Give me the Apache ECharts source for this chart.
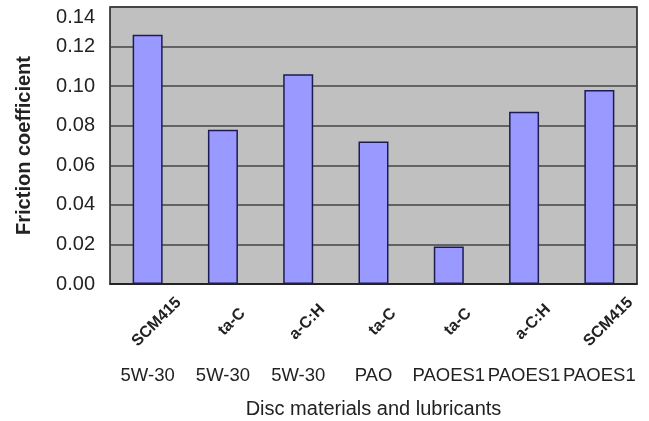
<!DOCTYPE html>
<html>
<head>
<meta charset="utf-8">
<script src="https://cdn.jsdelivr.net/npm/echarts@6/dist/echarts.min.js"></script>
<style>
html,body{margin:0;padding:0;background:#fff;}
#chart{width:649px;height:421px;}
</style>
</head>
<body>
<div id="chart"></div>
<script>
const materials = ['SCM415', 'ta-C', 'a-C:H', 'ta-C', 'ta-C', 'a-C:H', 'SCM415'];
const lubricants = ['5W-30', '5W-30', '5W-30', 'PAO', 'PAOES1', 'PAOES1', 'PAOES1'];
const frictionValues = [0.126, 0.078, 0.106, 0.072, 0.019, 0.087, 0.098];
const yTicks = [0, 0.02, 0.04, 0.06, 0.08, 0.10, 0.12, 0.14];
const catIndex = materials.map((m, i) => i);

const FONT = '"Liberation Sans", Arial, Helvetica, sans-serif';
const chart = echarts.init(document.getElementById('chart'), null, {renderer: 'canvas'});

const option = {
  backgroundColor: '#ffffff',
  animation: false,
  grid: [
    {left: 110, right: 12, top: 7, bottom: 137, show: true, containLabel: false, outerBoundsMode: 'none',
     backgroundColor: '#c0c0c0', borderColor: '#1a1a1a', borderWidth: 1.5},
    {left: 119, right: 3, top: 7, bottom: 137, show: false, containLabel: false, outerBoundsMode: 'none'}
  ],
  xAxis: [
    {type: 'category', gridIndex: 0, data: catIndex,
     axisLine: {show: true, lineStyle: {color: '#1a1a1a', width: 1.5}},
     axisTick: {show: false}, axisLabel: {show: false}},
    {type: 'category', gridIndex: 0, position: 'bottom', data: lubricants,
     axisLine: {show: false}, axisTick: {show: false},
     axisLabel: {show: true, margin: 82, fontSize: 18.5, color: '#222', fontFamily: FONT, interval: 0},
     name: 'Disc materials and lubricants', nameLocation: 'middle', nameGap: 115,
     nameTextStyle: {fontSize: 20, color: '#222', fontFamily: FONT}},
    {type: 'category', gridIndex: 1, data: materials,
     axisLine: {show: false}, axisTick: {show: false},
     axisLabel: {show: true, rotate: 45, align: 'center', verticalAlign: 'middle', margin: 38,
       fontSize: 16, fontWeight: 'bold', color: '#222', fontFamily: FONT, interval: 0}}
  ],
  yAxis: [
    {type: 'value', gridIndex: 0, min: 0, max: 0.14, interval: 0.02,
     axisLine: {show: false}, axisTick: {show: false},
     splitLine: {show: true, lineStyle: {color: '#444', width: 1.5}},
     axisLabel: {margin: 15, fontSize: 20, color: '#222', fontFamily: FONT,
       verticalAlignMaxLabel: 'top',
       formatter: v => { const t = yTicks.find(x => Math.abs(x - v) < 1e-9); return (t !== undefined ? t : v).toFixed(2); }},
     name: 'Friction coefficient', nameLocation: 'middle', nameGap: 76,
     nameTextStyle: {fontSize: 20, fontWeight: 'bold', color: '#222', fontFamily: FONT}},
    {type: 'value', gridIndex: 1, show: false, min: 0, max: 0.14}
  ],
  series: [{
    type: 'bar', xAxisIndex: 0, yAxisIndex: 0,
    data: frictionValues, barWidth: 30,
    itemStyle: {color: '#9999ff', borderColor: '#1c1c50', borderWidth: 1.5}
  }]
};
chart.setOption(option);
</script>
</body>
</html>
